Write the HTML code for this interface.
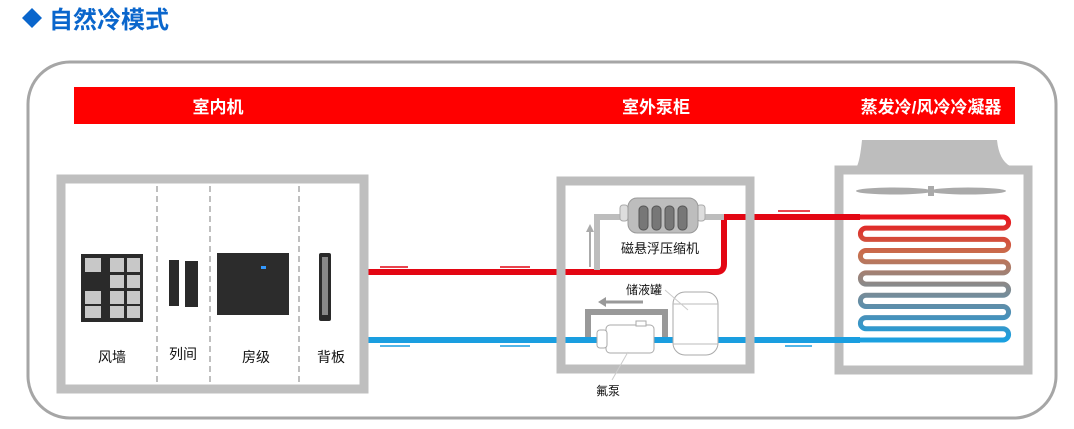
<!DOCTYPE html>
<html><head><meta charset="utf-8"><style>
body{margin:0;width:1074px;height:424px;background:#fff;overflow:hidden;font-family:"Liberation Sans","Noto Sans CJK SC",sans-serif}
</style></head><body>
<svg width="1074" height="424" viewBox="0 0 1074 424" xmlns="http://www.w3.org/2000/svg" font-family="Liberation Sans, Noto Sans CJK SC, sans-serif">
<defs>
<linearGradient id="cg" x1="0" y1="217" x2="0" y2="340" gradientUnits="userSpaceOnUse">
<stop offset="0" stop-color="#e8141c"/><stop offset="0.3" stop-color="#c8704e"/><stop offset="0.55" stop-color="#8a8a8a"/><stop offset="0.8" stop-color="#4a90b8"/><stop offset="1" stop-color="#1aa0e0"/>
</linearGradient>
</defs>
<polygon points="32,8 42,18 32,28 22,18" fill="#0a66cc"/>
<text x="49" y="28" font-size="24" font-weight="bold" fill="#0a66cc">自然冷模式</text>
<rect x="28" y="62" width="1028" height="356" rx="42" fill="none" stroke="#a6a6a6" stroke-width="3"/>
<rect x="74" y="87" width="941" height="37" fill="#ff0000"/>
<text x="218" y="113" font-size="17" font-weight="bold" fill="#fff" text-anchor="middle">室内机</text>
<text x="656" y="113" font-size="17" font-weight="bold" fill="#fff" text-anchor="middle">室外泵柜</text>
<text x="931" y="113" font-size="17" font-weight="bold" fill="#fff" text-anchor="middle">蒸发冷/风冷冷凝器</text>

<path d="M368 272 H716 Q724 272 724 264 V217 H862" fill="none" stroke="#e30613" stroke-width="6"/>
<path d="M368 340 H862" fill="none" stroke="#1a9ee0" stroke-width="6"/>
<path d="M597 270 V217 H625" fill="none" stroke="#bdbdbd" stroke-width="6"/>
<path d="M700 217 H724" fill="none" stroke="#bdbdbd" stroke-width="6"/>
<g stroke="#e30613" stroke-width="1.5">
<path d="M380 267 H408"/><path d="M500 267 H530"/><path d="M778 211 H810"/>
</g>
<g stroke="#1a9ee0" stroke-width="1.5">
<path d="M380 346 H410"/><path d="M500 346 H530"/><path d="M785 346 H812"/>
</g>
<path d="M590 267 V228" stroke="#aaa" stroke-width="2"/><path d="M586 232 L590 224 L594 232Z" fill="#aaa"/>
<path d="M722 268 V237" stroke="#e30613" stroke-width="1.5"/>
<path d="M643 302 H603" stroke="#999" stroke-width="3"/><path d="M606 297 L598 302 L606 307Z" fill="#999"/>

<rect x="61" y="179" width="303" height="210" fill="none" stroke="#bfbfbf" stroke-width="9"/>
<g stroke="#bfbfbf" stroke-width="2" stroke-dasharray="6,4">
<path d="M157 186 V383"/><path d="M210 186 V383"/><path d="M299 186 V383"/>
</g>
<rect x="81" y="254" width="62" height="68" fill="#2a2a2a"/>
<g fill="#c8c8c8"><rect x="85" y="258" width="16" height="14"/><rect x="110" y="258" width="14" height="14"/><rect x="127" y="258" width="13" height="14"/>
<rect x="110" y="275" width="14" height="13"/><rect x="127" y="275" width="13" height="13"/>
<rect x="85" y="291" width="16" height="13"/><rect x="110" y="291" width="14" height="13"/><rect x="127" y="291" width="13" height="13"/>
<rect x="85" y="306" width="16" height="12"/><rect x="110" y="306" width="14" height="12"/><rect x="127" y="306" width="13" height="12"/></g>
<rect x="169" y="260" width="10" height="46" fill="#2a2a2a"/><rect x="185" y="261" width="13" height="46" fill="#2a2a2a"/>
<rect x="217" y="253" width="72" height="62" fill="#2c2c2c"/><rect x="261" y="266" width="5" height="3" fill="#3399ff"/>
<rect x="319" y="253" width="12" height="68" rx="2" fill="#2a2a2a"/><rect x="322" y="257" width="6" height="58" fill="#888"/>
<g font-size="14" fill="#111" text-anchor="middle">
<text x="112" y="362">风墙</text><text x="183" y="359">列间</text><text x="256" y="362">房级</text><text x="331" y="362">背板</text>
</g>

<rect x="561" y="181" width="189" height="188" fill="none" stroke="#bdbdbd" stroke-width="9"/>
<rect x="620" y="205" width="8" height="16" rx="3" fill="#ddd" stroke="#aaa"/>
<rect x="697" y="205" width="8" height="16" rx="3" fill="#ddd" stroke="#aaa"/>
<rect x="628" y="198" width="70" height="35" rx="9" fill="#bdbdbd" stroke="#999"/>
<g fill="#777" stroke="#555"><rect x="639" y="206" width="9" height="24" rx="4"/><rect x="652" y="206" width="9" height="24" rx="4"/><rect x="665" y="206" width="9" height="24" rx="4"/><rect x="678" y="206" width="9" height="24" rx="4"/></g>
<text x="660" y="253" font-size="13" fill="#111" text-anchor="middle">磁悬浮压缩机</text>
<text x="644" y="294" font-size="12" fill="#111" text-anchor="middle">储液罐</text>
<path d="M588 337 V312 H665 V337" fill="none" stroke="#999" stroke-width="6"/>
<rect x="673" y="292" width="45" height="63" rx="12" fill="#fff" stroke="#aaa"/>
<path d="M673 304 H718 M673 344 H718" stroke="#bbb"/>
<rect x="606" y="325" width="48" height="28" rx="4" fill="#fff" stroke="#aaa"/>
<rect x="597" y="330" width="10" height="18" rx="3" fill="#fff" stroke="#aaa"/>
<rect x="636" y="321" width="10" height="5" fill="#fff" stroke="#aaa"/>
<text x="608" y="395" font-size="12" fill="#111" text-anchor="middle">氟泵</text>
<path d="M665 290 L688 310" stroke="#ccc"/><path d="M612 380 L628 352" stroke="#ccc"/>

<path d="M862 140 H997 Q999 160 1010 166 H857 Q860 160 862 140Z" fill="#bdbdbd"/>
<rect x="839" y="170" width="189" height="200" fill="#fff" stroke="#bdbdbd" stroke-width="9"/>
<ellipse cx="894" cy="191" rx="38" ry="3.5" fill="#aaa"/><ellipse cx="968" cy="191" rx="38" ry="3.5" fill="#aaa"/><rect x="928" y="186" width="6" height="10" fill="#aaa"/>
<path d="M832 217 H1003 a5.59 5.59 0 0 1 0 11.18 H866 a5.59 5.59 0 0 0 0 11.18 H1003 a5.59 5.59 0 0 1 0 11.18 H866 a5.59 5.59 0 0 0 0 11.18 H1003 a5.59 5.59 0 0 1 0 11.18 H866 a5.59 5.59 0 0 0 0 11.18 H1003 a5.59 5.59 0 0 1 0 11.18 H866 a5.59 5.59 0 0 0 0 11.18 H1003 a5.59 5.59 0 0 1 0 11.18 H866 a5.59 5.59 0 0 0 0 11.18 H1003 a5.59 5.59 0 0 1 0 11.18 H832" fill="none" stroke="url(#cg)" stroke-width="5"/>
<path d="M832 217 H860" stroke="#e30613" stroke-width="6"/>
<path d="M832 340 H860" stroke="#1a9ee0" stroke-width="6"/>
</svg>
</body></html>
